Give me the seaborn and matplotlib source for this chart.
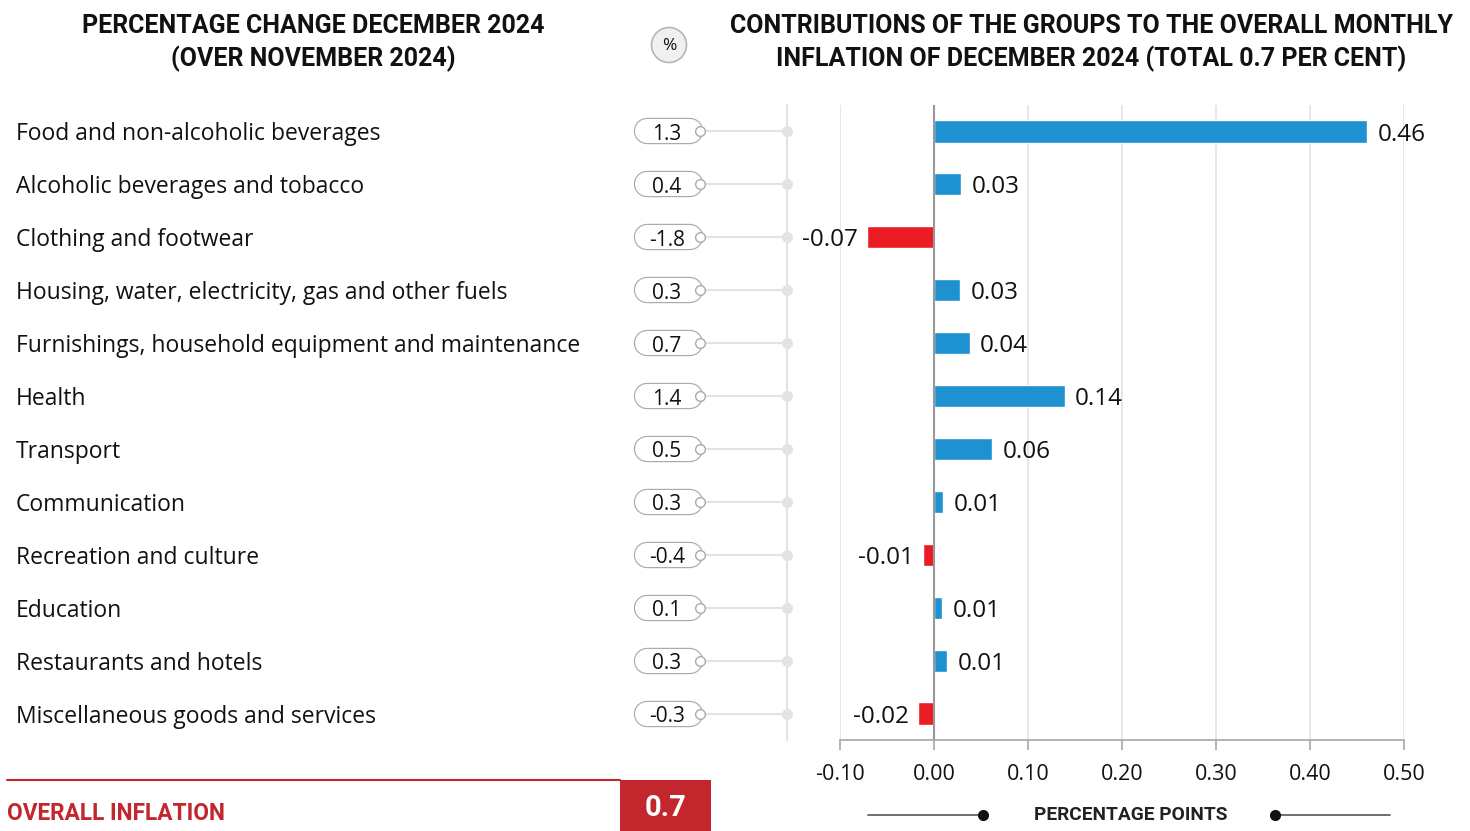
import matplotlib.pyplot as plt
import matplotlib.transforms as mtransforms
from matplotlib.patches import Circle, Rectangle
import pandas as pd
import seaborn as sns

categories = [
    'Food and non-alcoholic beverages', 'Alcoholic beverages and tobacco',
    'Clothing and footwear', 'Housing, water, electricity, gas and other fuels',
    'Furnishings, household equipment and maintenance', 'Health', 'Transport',
    'Communication', 'Recreation and culture', 'Education',
    'Restaurants and hotels', 'Miscellaneous goods and services']
pct_change = ['1.3', '0.4', '-1.8', '0.3', '0.7', '1.4', '0.5', '0.3', '-0.4', '0.1', '0.3', '-0.3']
contrib = [0.461, 0.029, -0.071, 0.028, 0.038, 0.139, 0.062, 0.010, -0.012, 0.009, 0.014, -0.017]
x_ticks = [-0.10, 0.00, 0.10, 0.20, 0.30, 0.40, 0.50]
overall = '0.7'

BLUE = '#1e91d0'
RED = '#ec1c24'
DARKRED = '#c1272d'
GRID = '#e3e3e3'

sns.set_theme(style='white')
plt.rcParams['font.family'] = ['Open Sans', 'DejaVu Sans']
BOLD = ['Roboto', 'DejaVu Sans']

df = pd.DataFrame({'cat': categories, 'val': contrib})
df['sign'] = ['neg' if v < 0 else 'pos' for v in contrib]

fig = plt.figure(figsize=(14.7, 8.31), dpi=100)
ax = fig.add_axes([840 / 1470, 1 - 740 / 831, 564 / 1470, 635 / 831])

sns.barplot(data=df, x='val', y='cat', hue='sign', palette={'pos': BLUE, 'neg': RED},
            dodge=False, width=0.42, legend=False, ax=ax, saturation=1)

ax.set_xticks(x_ticks)
ax.set_xticklabels([f'{t:.2f}' for t in x_ticks], fontsize=15.5, color='#111111')
ax.set_yticks([])
ax.set_ylabel('')
ax.set_xlabel('')
for t in x_ticks:
    ax.axvline(t, color=GRID, lw=1.2, zorder=0)
ax.axvline(0, color='#999999', lw=1.5, zorder=3)
for s in ['top', 'right', 'left']:
    ax.spines[s].set_visible(False)
ax.spines['bottom'].set_color('#aaaaaa')
ax.tick_params(axis='x', bottom=True, length=7, color='#aaaaaa', pad=10)

for i, v in enumerate(contrib):
    if v >= 0:
        ax.annotate(f'{v:.2f}', (v, i), xytext=(7.5, -2.2), textcoords='offset points',
                    va='center', ha='left', fontsize=17.5, color='#111111')
    else:
        ax.annotate(f'{v:.2f}', (v, i), xytext=(-6.5, -2.2), textcoords='offset points',
                    va='center', ha='right', fontsize=17.5, color='#111111')

# left side: labels, pills, connectors (x in figure coords, y in data)
blend = mtransforms.blended_transform_factory(fig.transFigure, ax.transData)
blend_txt = mtransforms.offset_copy(blend, fig=fig, y=-3, units='dots')
W = 1470
for i, (c, p) in enumerate(zip(categories, pct_change)):
    ax.text(16 / W, i, c, transform=blend_txt, ha='left', va='center', fontsize=16.5,
            color='#111111', clip_on=False)
    ax.plot([703 / W, 787 / W], [i, i], transform=blend, color=GRID, lw=1.5,
            clip_on=False, zorder=1)
    ax.plot([647 / W, 690 / W], [i, i], transform=blend, color='#aaaaaa', lw=19,
            solid_capstyle='round', clip_on=False, zorder=2)
    ax.plot([647 / W, 690 / W], [i, i], transform=blend, color='white', lw=17.3,
            solid_capstyle='round', clip_on=False, zorder=3)
    ax.plot([700 / W], [i], transform=blend, marker='o', ms=7, mfc='white',
            mec='#aaaaaa', mew=1, clip_on=False, zorder=4)
    ax.plot([787 / W], [i], transform=blend, marker='o', ms=7, mfc=GRID,
            mec=GRID, clip_on=False, zorder=4)
    ax.text(667 / W, i, p, transform=blend_txt, ha='center', va='center', fontsize=15,
            color='#111111', clip_on=False, zorder=5)
ax.plot([787 / W, 787 / W], [-0.5, 11.5], transform=blend, color=GRID, lw=1.5,
        clip_on=False, zorder=0)

ax.set_xlim(-0.10, 0.50)
ax.set_ylim(len(categories) - 0.5, -0.5)

# titles
fig.text(313 / W, 1 - 43 / 831, 'PERCENTAGE CHANGE DECEMBER 2024\n(OVER NOVEMBER 2024)',
         ha='center', va='center', fontsize=18, fontweight='bold', family=BOLD,
         color='#111111', linespacing=1.38)
fig.text(1091 / W, 1 - 43 / 831,
         'CONTRIBUTIONS OF THE GROUPS TO THE OVERALL MONTHLY\nINFLATION OF DECEMBER 2024 (TOTAL 0.7 PER CENT)',
         ha='center', va='center', fontsize=18, fontweight='bold', family=BOLD,
         color='#111111', linespacing=1.38)

# % badge
fig.patches.append(Circle((669, 831 - 45), 17.5, transform=mtransforms.IdentityTransform(),
                          facecolor='#f0f0f0', edgecolor='#b5b5b5', lw=1.2))
fig.text(669 / W, 1 - 46 / 831, '%', ha='center', va='center', fontsize=12.5, color='#111111')

# overall inflation footer
fig.add_artist(plt.Line2D([7 / W, 620 / W], [1 - 780 / 831] * 2, transform=fig.transFigure,
                          color=DARKRED, lw=1.5))
fig.patches.append(Rectangle((620 / W, 0), 91 / W, 51 / 831, transform=fig.transFigure,
                             facecolor=DARKRED, edgecolor='none'))
fig.text(7 / W, 1 - 813 / 831, 'OVERALL INFLATION', ha='left', va='center',
         fontsize=16.3, fontweight='bold', family=BOLD, color=DARKRED)
fig.text(666 / W, 1 - 808 / 831, overall, ha='center', va='center', fontsize=21,
         fontweight='bold', family=BOLD, color='white')

# x-axis caption
fig.text(1131 / W, 1 - 815 / 831, 'PERCENTAGE POINTS', ha='center', va='center',
         fontsize=13.8, fontweight='bold', family=BOLD, color='#222222')
for x0, x1, xd in [(868, 983, 983), (1275, 1390, 1275)]:
    fig.add_artist(plt.Line2D([x0 / W, x1 / W], [1 - 815 / 831] * 2,
                              transform=fig.transFigure, color='#555555', lw=1.2))
    fig.add_artist(plt.Line2D([xd / W], [1 - 815 / 831], transform=fig.transFigure,
                              marker='o', ms=7, color='#111111'))

fig.savefig('out.png', dpi=100)
